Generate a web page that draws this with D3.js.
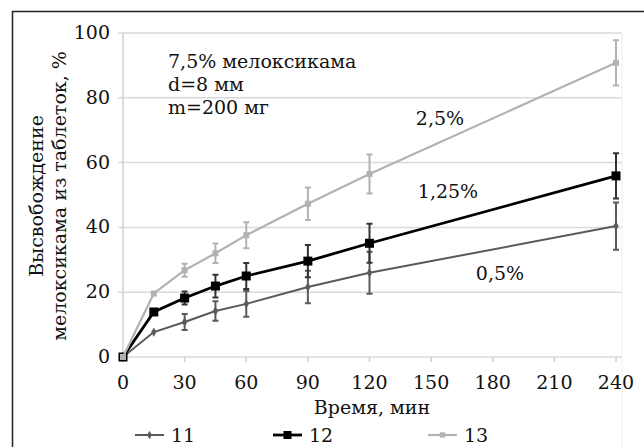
<!DOCTYPE html>
<html>
<head>
<meta charset="utf-8">
<script src="https://cdn.jsdelivr.net/npm/d3@7"></script>
<style>
body { margin: 0; background: #fff; }
</style>
</head>
<body>
<div id="containerDiv"></div>
<script>
var times = [0, 15, 30, 45, 60, 90, 120, 240];
var s11 = [0, 7.7, 10.8, 14.2, 16.4, 21.6, 26, 40.4];
var s11err = [0.5, 1, 2.5, 3, 4, 5, 6.5, 7.3];
var s12 = [0, 13.9, 18.2, 21.9, 25, 29.6, 35.1, 55.9];
var s12err = [0.5, 1, 2, 3.5, 4, 5, 6, 7];
var s13 = [0, 19.6, 26.8, 32, 37.6, 47.3, 56.5, 90.8];
var s13err = [0.5, 1, 2, 3, 4, 5, 6, 7];
var xTicks = [0, 30, 60, 90, 120, 150, 180, 210, 240];
var yTicks = [0, 20, 40, 60, 80, 100];
var seriesNames = ["11", "12", "13"];
var curveLabels = ["0,5%", "1,25%", "2,5%"];

var w = 644, h = 447;
var serif = "DejaVu Serif, Liberation Serif, serif";

var svg = d3.select("#containerDiv")
            .append("svg")
            .attr("width", w)
            .attr("height", h)
            .style("font-family", serif);

// outer frame (only top and left edges are visible)
svg.append("rect")
   .attr("x", 12.5).attr("y", 11.5)
   .attr("width", 700).attr("height", 500)
   .attr("fill", "none").attr("stroke", "#222").attr("stroke-width", 1.5);

var x = d3.scaleLinear().domain([0, 240]).range([123, 616]);
var y = d3.scaleLinear().domain([0, 100]).range([357, 33]);

// horizontal grid
svg.append("g").selectAll("line")
   .data(yTicks)
   .enter()
   .append("line")
   .attr("x1", 118).attr("x2", 622)
   .attr("y1", function(d) { return y(d); })
   .attr("y2", function(d) { return y(d); })
   .attr("stroke", "#dadada").attr("stroke-width", 1.5);

// y axis line and right edge
svg.append("line").attr("x1", x(0)).attr("x2", x(0)).attr("y1", y(100)).attr("y2", y(0))
   .attr("stroke", "#d0d0d0").attr("stroke-width", 1.5);
svg.append("line").attr("x1", 622).attr("x2", 622).attr("y1", y(100)).attr("y2", 447)
   .attr("stroke", "#eeeeee").attr("stroke-width", 1);

// x axis ticks
svg.append("g").selectAll("line")
   .data(xTicks)
   .enter()
   .append("line")
   .attr("x1", function(d) { return x(d); })
   .attr("x2", function(d) { return x(d); })
   .attr("y1", y(0)).attr("y2", y(0) + 5)
   .attr("stroke", "#cfcfcf").attr("stroke-width", 1.5);

svg.append("g").selectAll("text")
   .data(xTicks)
   .enter()
   .append("text")
   .text(function(d) { return d; })
   .attr("x", function(d) { return x(d); })
   .attr("y", 389)
   .attr("text-anchor", "middle")
   .attr("font-size", "19px")
   .attr("fill", "#111");

svg.append("g").selectAll("text")
   .data(yTicks)
   .enter()
   .append("text")
   .text(function(d) { return d; })
   .attr("x", 110)
   .attr("y", function(d) { return y(d) + 6; })
   .attr("text-anchor", "end")
   .attr("font-size", "19px")
   .attr("fill", "#111");

// axis titles
svg.append("text")
   .attr("transform", "translate(43,196) rotate(-90)")
   .attr("text-anchor", "middle")
   .attr("font-size", "19px")
   .attr("fill", "#111")
   .text("Высвобождение");
svg.append("text")
   .attr("transform", "translate(66,196) rotate(-90)")
   .attr("text-anchor", "middle")
   .attr("font-size", "19px")
   .attr("fill", "#111")
   .text("мелоксикама из таблеток, %");
svg.append("text")
   .attr("x", 372).attr("y", 414)
   .attr("text-anchor", "middle")
   .attr("font-size", "19px")
   .attr("fill", "#111")
   .text("Время, мин");

// annotation
var notes = ["7,5% мелоксикама", "d=8 мм", "m=200 мг"];
svg.append("g").selectAll("text")
   .data(notes)
   .enter()
   .append("text")
   .text(function(d) { return d; })
   .attr("x", 168)
   .attr("y", function(d, i) { return 68 + i * 23; })
   .attr("font-size", "19px")
   .attr("fill", "#111");

var series = [
  { name: seriesNames[0], vals: s11, err: s11err, color: "#5a5a5a", width: 2, marker: "diamond", size: 5 },
  { name: seriesNames[1], vals: s12, err: s12err, color: "#000000", width: 2.8, marker: "square", size: 9 },
  { name: seriesNames[2], vals: s13, err: s13err, color: "#b2b2b2", width: 2.2, marker: "square", size: 6 }
];

var line = d3.line()
   .x(function(d) { return x(d[0]); })
   .y(function(d) { return y(d[1]); });

series.forEach(function(s) {
  var pts = times.map(function(t, i) { return [t, s.vals[i], s.err[i]]; });
  var g = svg.append("g");

  // error bars
  g.selectAll(".eb")
   .data(pts.slice(2))
   .enter()
   .append("path")
   .attr("d", function(d) {
     var cx = x(d[0]), t = y(d[1] + d[2]), b = y(d[1] - d[2]);
     return "M" + cx + "," + t + "V" + b + "M" + (cx - 3) + "," + t + "H" + (cx + 3) + "M" + (cx - 3) + "," + b + "H" + (cx + 3);
   })
   .attr("stroke", s.color === "#000000" ? "#333" : s.color)
   .attr("stroke-width", 2)
   .attr("fill", "none");

  g.append("path")
   .datum(pts)
   .attr("d", line)
   .attr("fill", "none")
   .attr("stroke", s.color)
   .attr("stroke-width", s.width);

  g.selectAll(".mk")
   .data(pts)
   .enter()
   .append("path")
   .attr("transform", function(d) { return "translate(" + x(d[0]) + "," + y(d[1]) + ")"; })
   .attr("d", d3.symbol().type(s.marker === "diamond" ? d3.symbolDiamond : d3.symbolSquare).size(s.size * s.size))
   .attr("fill", s.color);
});

// curve labels
var labelPos = [[500, 280], [448, 198], [440, 125]];
svg.append("g").selectAll("text")
   .data(curveLabels)
   .enter()
   .append("text")
   .text(function(d) { return d; })
   .attr("x", function(d, i) { return labelPos[i][0]; })
   .attr("y", function(d, i) { return labelPos[i][1]; })
   .attr("text-anchor", "middle")
   .attr("font-size", "19px")
   .attr("fill", "#111");

// legend
var legendX = [135, 273, 428];
var leg = svg.append("g").selectAll("g")
   .data(series)
   .enter()
   .append("g")
   .attr("transform", function(d, i) { return "translate(" + legendX[i] + ",435)"; });
leg.append("line")
   .attr("x1", 0).attr("x2", 29).attr("y1", 0).attr("y2", 0)
   .attr("stroke", function(d) { return d.color; })
   .attr("stroke-width", function(d) { return d.width; });
leg.append("path")
   .attr("transform", "translate(14.5,0)")
   .attr("d", function(d) { return d3.symbol().type(d.marker === "diamond" ? d3.symbolDiamond : d3.symbolSquare).size(d.size * d.size * 0.8)(); })
   .attr("fill", function(d) { return d.color; });
leg.append("text")
   .attr("x", 36).attr("y", 7)
   .attr("font-size", "19px")
   .attr("fill", "#111")
   .text(function(d) { return d.name; });
</script>
</body>
</html>
